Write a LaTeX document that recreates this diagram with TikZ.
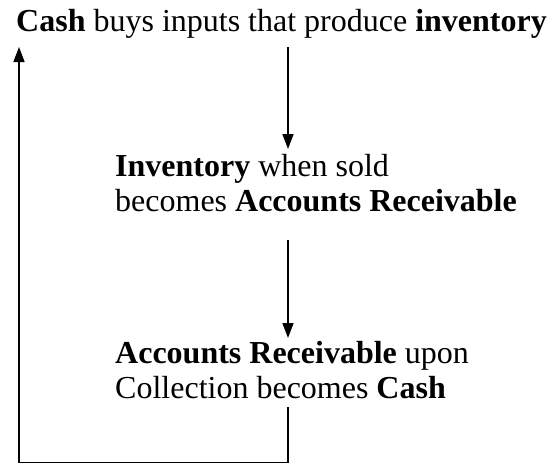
\documentclass[tikz,border=0pt]{standalone}
\usepackage{fontspec}
\setmainfont{Liberation Serif}
\usetikzlibrary{arrows.meta}
\tikzset{
  lbl/.style={anchor=base west, inner sep=0pt, align=left, font=\fontsize{32}{35}\selectfont},
  flow/.style={line width=1.5pt, -{Triangle[width=11pt,length=15pt]}},
  loopline/.style={line width=1.5pt}
}
\begin{document}
\begin{tikzpicture}[x=1pt,y=-1pt]
\useasboundingbox (0,0) rectangle (552,464);
\node[lbl] (cash) at (16,31) {\textbf{Cash} buys inputs that produce \textbf{inventory}};
\node[lbl] (inv) at (115,211) {\textbf{Inventory} when sold\\becomes \textbf{Accounts Receivable}};
\node[lbl] (ar) at (115,398) {\textbf{Accounts Receivable} upon\\Collection becomes \textbf{Cash}};
\coordinate (a1s) at (288,47);
\coordinate (a1e) at (288,149);
\coordinate (a2s) at (288,240);
\coordinate (a2e) at (288,338);
\coordinate (ls) at (288,407);
\coordinate (lc1) at (288,462.5);
\coordinate (lc2) at (19,462.5);
\coordinate (le) at (19,47);
\draw[flow] (a1s) -- (a1e);
\draw[flow] (a2s) -- (a2e);
\draw[loopline] (ls) -- (lc1) -- (lc2);
\draw[flow] (lc2) -- (le);
\end{tikzpicture}
\end{document}
